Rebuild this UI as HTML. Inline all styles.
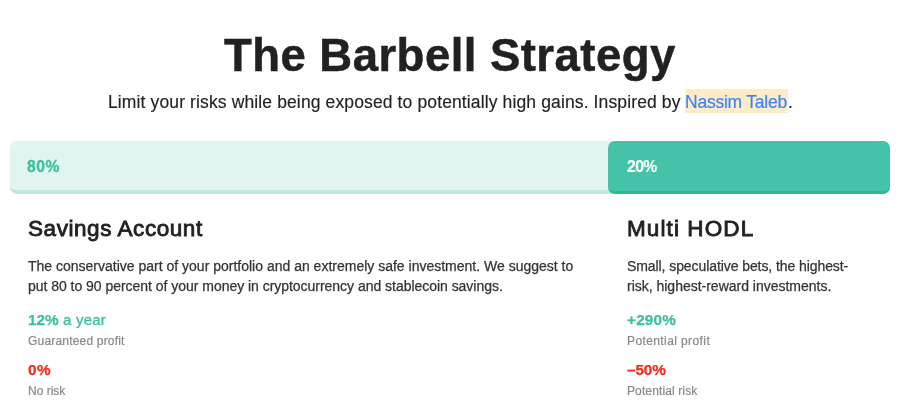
<!DOCTYPE html>
<html>
<head>
<meta charset="utf-8">
<style>
html,body{margin:0;padding:0;background:#fff;}
body{width:900px;height:413px;overflow:hidden;position:relative;font-family:"Liberation Sans",sans-serif;color:#222;}
.abs{position:absolute;white-space:nowrap;line-height:1;will-change:transform;}
#title{left:224px;top:32.5px;font-size:45.5px;font-weight:bold;color:#212121;letter-spacing:0.46px;-webkit-text-stroke:0.5px #212121;}
#linkbg{position:absolute;left:684.5px;top:89px;width:103.5px;height:24px;background:#feebc8;}
#sub{left:107.5px;top:94px;font-size:17.5px;color:#222;letter-spacing:0.125px;-webkit-text-stroke:0.15px #222;}
#bar{position:absolute;left:10px;top:141px;width:880px;height:48.5px;background:#e0f5f0;border-bottom:4px solid #bfe8dd;border-radius:7px;}
#bar2{position:absolute;left:608px;top:141px;width:282px;height:49.5px;background:#45c3a8;border-bottom:3px solid #33b797;border-radius:7px;}
.pct{font-size:15.7px;font-weight:bold;top:159px;}
.h{font-size:22.5px;color:#222;top:218.4px;-webkit-text-stroke:0.85px #222;}
.p{font-size:14px;color:#333;-webkit-text-stroke:0.25px #333;}
.m{font-size:15.3px;font-weight:bold;-webkit-text-stroke:0.25px currentColor;}
.l{font-size:12px;color:#888;-webkit-text-stroke:0.2px #888;}
.g{color:#3dbf9f;}
.r{color:#ef2b1d;}
</style>
</head>
<body>
<div id="linkbg"></div>
<div class="abs" id="title">The Barbell Strategy</div>
<div class="abs" id="sub">Limit your risks while being exposed to potentially high gains. Inspired by</div>
<div class="abs" id="link" style="left:684.8px;letter-spacing:-0.23px;top:94px;font-size:17.5px;color:#3b82f6;-webkit-text-stroke:0.15px #3b82f6;">Nassim Taleb</div>
<div class="abs" id="dot" style="left:787.6px;top:94px;font-size:17.5px;color:#222;-webkit-text-stroke:0.15px #222;">.</div>
<div id="bar"></div>
<div id="bar2"></div>
<div class="abs pct g" id="p80" style="left:27px;letter-spacing:0.5px;-webkit-text-stroke:0.3px #3dbf9f;">80%</div>
<div class="abs pct" id="p20" style="left:627.2px;color:#fff;letter-spacing:-0.55px;-webkit-text-stroke:0.15px #fff;">20%</div>

<div class="abs h" id="h1" style="left:28px;letter-spacing:0.56px;">Savings Account</div>
<div class="abs p" id="p1a" style="left:27.5px;top:259px;">The conservative part of your portfolio and an extremely safe investment. We suggest to</div>
<div class="abs p" id="p1b" style="left:27.5px;top:279px;letter-spacing:-0.03px;">put 80 to 90 percent of your money in cryptocurrency and stablecoin savings.</div>
<div class="abs m g" id="m1" style="left:27.5px;top:312.2px;letter-spacing:0px;">12% <span style="font-weight:normal;-webkit-text-stroke:0.3px #3dbf9f;letter-spacing:0.25px;font-size:15px;">a year</span></div>
<div class="abs l" id="l1" style="left:27.5px;top:335px;letter-spacing:0.19px;">Guaranteed profit</div>
<div class="abs m r" id="m2" style="left:27.5px;top:362.2px;letter-spacing:0.6px;">0%</div>
<div class="abs l" id="l2" style="left:27.5px;top:385.2px;letter-spacing:0px;">No risk</div>

<div class="abs h" id="h2" style="left:627px;letter-spacing:1.1px;">Multi HODL</div>
<div class="abs p" id="p2a" style="left:626.5px;top:259px;letter-spacing:-0.08px;">Small, speculative bets, the highest-</div>
<div class="abs p" id="p2b" style="left:626.5px;top:279px;letter-spacing:-0.01px;">risk, highest-reward investments.</div>
<div class="abs m g" id="m3" style="left:626.5px;top:312.2px;letter-spacing:0.2px;">+290%</div>
<div class="abs l" id="l3" style="left:626.5px;top:335px;letter-spacing:0.4px;">Potential profit</div>
<div class="abs m r" id="m4" style="left:627px;top:362.2px;letter-spacing:-0.1px;">&#8211;50%</div>
<div class="abs l" id="l4" style="left:626.5px;top:385.2px;letter-spacing:0.12px;">Potential risk</div>
</body>
</html>
